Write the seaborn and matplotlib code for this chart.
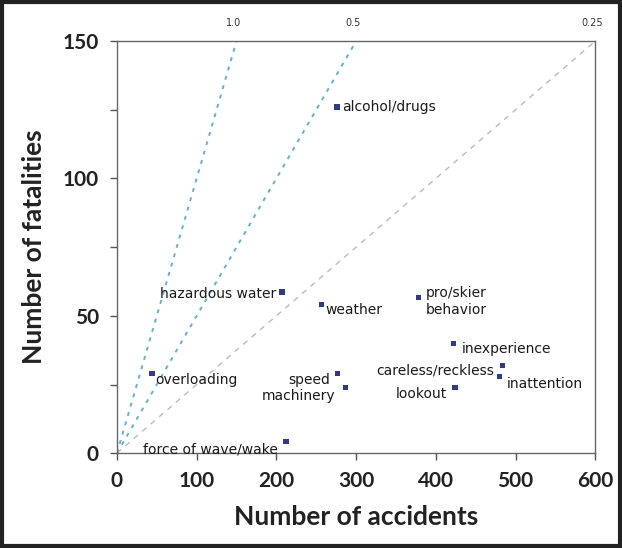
import matplotlib
matplotlib.use("Agg")
import matplotlib.pyplot as plt
import seaborn as sns
import pandas as pd
from matplotlib.patches import Rectangle
from matplotlib.ticker import MultipleLocator

# 데이터
causes = ["alcohol/drugs", "hazardous water", "weather", "pro/skier\nbehavior",
          "inexperience", "careless/reckless", "inattention", "lookout",
          "speed", "machinery", "overloading", "force of wave/wake"]
accidents = [276, 207, 257, 378, 422, 484, 480, 424, 277, 287, 44, 212]
fatalities = [126, 58.7, 54, 56.8, 40, 31.8, 28, 24, 29, 24, 29, 4.4]

ratios = [1.0, 0.5, 0.25]
ratio_labels = ["1.0", "0.5", "0.25"]

df = pd.DataFrame({"cause": causes, "accidents": accidents, "fatalities": fatalities})

# 라벨 위치 (오프셋 픽셀, 정렬)
label_pos = {
    "alcohol/drugs": (5, 0, "left", "center"),
    "hazardous water": (-6, -2, "right", "center"),
    "weather": (4, -5, "left", "center"),
    "pro/skier\nbehavior": (7, 11, "left", "top"),
    "inexperience": (8, -6, "left", "center"),
    "careless/reckless": (-9, -5, "right", "center"),
    "inattention": (7, -8, "left", "center"),
    "lookout": (-8, -7, "right", "center"),
    "speed": (-8, -6, "right", "center"),
    "machinery": (-10, -9, "right", "center"),
    "overloading": (3, -6, "left", "center"),
    "force of wave/wake": (-8, -8, "right", "center"),
}

sns.set_style("white")
fig = plt.figure(figsize=(6.22, 5.48), dpi=100)
ax = fig.add_axes([0.188, 0.173, 0.769, 0.752])

ymax = 150
line_styles = [("#5ab4d6", (0, (2, 3)), 1.4), ("#5ab4d6", (0, (2, 3)), 1.4),
               ("#bbbbbb", (0, (4, 4)), 1.0)]
for r, lab, (c, ls, lw) in zip(ratios, ratio_labels, line_styles):
    xs = [0, ymax / r]
    ys = [0, ymax]
    sns.lineplot(x=xs, y=ys, ax=ax, color=c, linestyle=ls, linewidth=lw)
    ax.annotate(lab, (ymax / r, ymax), xytext=(-3, 13), textcoords="offset pixels",
                ha="center", va="bottom", fontsize=7, color="#333333",
                annotation_clip=False)

sns.scatterplot(data=df, x="accidents", y="fatalities", ax=ax, marker="s",
                s=14, color="#2e3a8c", edgecolor="none", zorder=5)

for cause, x, y in zip(causes, accidents, fatalities):
    dx, dy, ha, va = label_pos[cause]
    ax.annotate(cause, (x, y), xytext=(dx, dy), textcoords="offset pixels",
                ha=ha, va=va, fontsize=10, color="#1a1a1a",
                family="DejaVu Sans", linespacing=1.3)

ax.set_xlim(0, 600)
ax.set_ylim(0, 150)
ax.xaxis.set_major_locator(MultipleLocator(100))
ax.yaxis.set_major_locator(MultipleLocator(50))
ax.yaxis.set_minor_locator(MultipleLocator(25))
ax.tick_params(axis="both", which="both", direction="out", length=5,
               width=1, color="#555555", left=True, bottom=True)
ax.tick_params(axis="both", which="major", labelsize=15, pad=8)
for t in ax.get_xticklabels() + ax.get_yticklabels():
    t.set_family("Lato")
    t.set_fontweight("bold")
    t.set_color("#222222")
for sp in ax.spines.values():
    sp.set_color("#666666")
    sp.set_linewidth(1)

ax.set_xlabel("Number of accidents", fontsize=19, fontweight="bold",
              family="Lato", color="#222222", labelpad=10)
ax.set_ylabel("Number of fatalities", fontsize=19, fontweight="bold",
              family="Lato", color="#222222", labelpad=12)

# 그림 테두리
fig.patches.append(Rectangle((0.003, 0.003), 0.994, 0.993, transform=fig.transFigure,
                             fill=False, edgecolor="#222222", linewidth=3))

fig.savefig("out.png", dpi=100)
